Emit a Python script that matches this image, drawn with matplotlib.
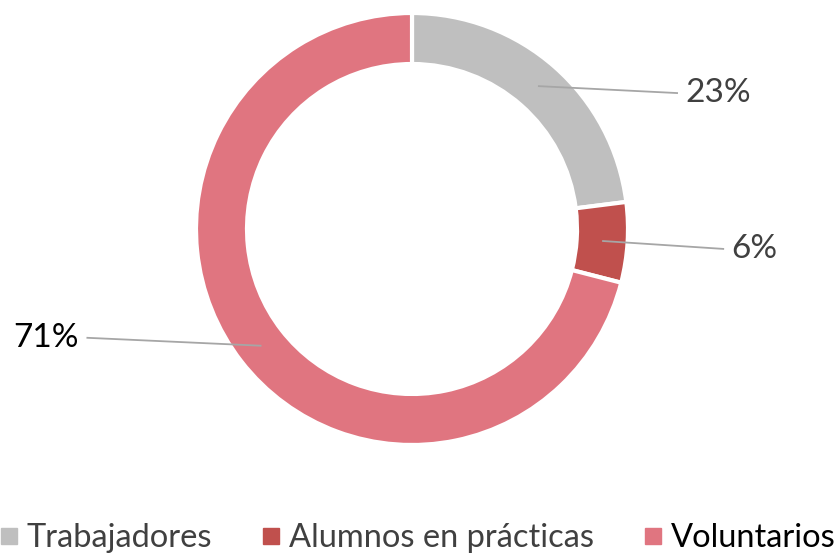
import numpy as np
import matplotlib
matplotlib.use("Agg")
import matplotlib.pyplot as plt
from matplotlib.lines import Line2D

categories = ["Trabajadores", "Alumnos en prácticas", "Voluntarios"]
values = [23, 6, 71]
labels = ["23%", "6%", "71%"]
colors = ["#BFBFBF", "#C0504D", "#E07580"]
label_colors = ["#404040", "#404040", "#000000"]
legend_text_colors = ["#404040", "#404040", "#000000"]

plt.rcParams['font.family'] = ['Lato', 'DejaVu Sans']

W, H = 836, 554
fig = plt.figure(figsize=(W / 100, H / 100), dpi=100)
ax = fig.add_axes([0, 0, 1, 1])

cx, cy, R = 412, H - 229, 216
width = 51
wedges, _ = ax.pie(values, colors=colors, startangle=90, counterclock=False,
                   center=(cx, cy), radius=R, frame=True,
                   wedgeprops=dict(width=width, edgecolor='white', linewidth=3))
ax.set_xlim(0, W)
ax.set_ylim(0, H)
ax.set_aspect('equal')
ax.axis('off')

# leader lines and labels
text_offsets = [(140, -7, 'left'), (122, -8, 'left'), (-175, 8, 'right')]
rmid = R - width / 2
for w, lab, lc, (dx, dy, ha) in zip(wedges, labels, label_colors, text_offsets):
    ang = np.deg2rad((w.theta1 + w.theta2) / 2)
    x0 = cx + rmid * np.cos(ang)
    y0 = cy + rmid * np.sin(ang)
    x1, y1 = x0 + dx, y0 + dy
    ax.plot([x0, x1], [y0, y1], color='#A6A6A6', lw=1.3, solid_capstyle='butt')
    tx = x1 + 7 if ha == 'left' else x1 - 8
    ax.text(tx, y1, lab, ha=ha, va='center', fontsize=24, color=lc)

handles = [Line2D([], [], marker='s', linestyle='none', markersize=12,
                  markerfacecolor=c, markeredgecolor=c) for c in colors]
leg = fig.legend(handles, categories, loc='lower center', bbox_to_anchor=(0.5, -0.022),
                 ncol=3, frameon=False, fontsize=23.5, handlelength=0.5,
                 handletextpad=0.3, columnspacing=1.55, borderaxespad=0.0)
for t, c in zip(leg.get_texts(), legend_text_colors):
    t.set_color(c)

fig.savefig("out.png", dpi=100, facecolor='white')
